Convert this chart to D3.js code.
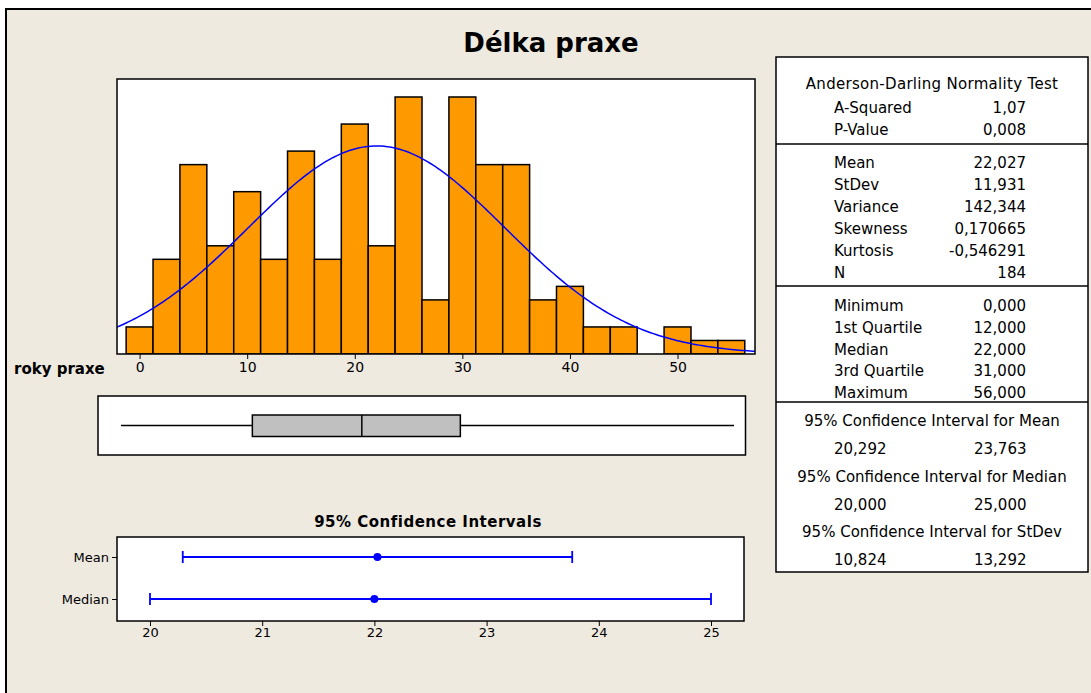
<!DOCTYPE html>
<html>
<head>
<meta charset="utf-8">
<script src="https://cdn.jsdelivr.net/npm/d3@7"></script>
<style>
  body { margin: 0; background: #fff; }
  text { font-family: "DejaVu Sans", Verdana, sans-serif; fill: #000; }
</style>
</head>
<body>
<script>
// histogram data (bin midpoints, counts)
const binMids = [0, 2.5, 5, 7.5, 10, 12.5, 15, 17.5, 20, 22.5, 25, 27.5, 30, 32.5, 35, 37.5, 40, 42.5, 45, 47.5, 50, 52.5, 55];
const counts  = [2, 7, 14, 8, 12, 7, 15, 7, 17, 8, 19, 4, 19, 14, 14, 4, 5, 2, 2, 0, 2, 1, 1];
const binWidth = 2.5;
const histTicks = [0, 10, 20, 30, 40, 50];

// summary stats
const adLabels = ["A-Squared", "P-Value"];
const adValues = ["1,07", "0,008"];
const momentLabels = ["Mean", "StDev", "Variance", "Skewness", "Kurtosis", "N"];
const momentValues = [22.027, 11.931, 142.344, 0.170665, -0.546291, 184];
const momentDecimals = [3, 3, 3, 6, 6, 0];
const quantLabels = ["Minimum", "1st Quartile", "Median", "3rd Quartile", "Maximum"];
const quantValues = [0, 12, 22, 31, 56];

// confidence intervals
const ciRows = ["Mean", "Median"];
const ciPoint = [22.027, 22.0];
const ciLow = [20.292, 20.0];
const ciHigh = [23.763, 25.0];
const ciTicks = [20, 21, 22, 23, 24, 25];
const ciTableTitles = ["95% Confidence Interval for Mean", "95% Confidence Interval for Median", "95% Confidence Interval for StDev"];
const ciTableLow = [20.292, 20.0, 10.824];
const ciTableHigh = [23.763, 25.0, 13.292];

const fmt = (v, d) => v.toFixed(d).replace(".", ",");

const svg = d3.select("body")
  .append("svg")
    .attr("width", 1091)
    .attr("height", 693);

// background frame
svg.append("rect")
  .attr("x", 6).attr("y", 9)
  .attr("width", 1100).attr("height", 700)
  .attr("fill", "#EEEAE0")
  .attr("stroke", "#000")
  .attr("stroke-width", 2);

svg.append("text")
  .attr("x", 551).attr("y", 52)
  .attr("text-anchor", "middle")
  .attr("font-size", "26px")
  .attr("font-weight", "bold")
  .text("Délka praxe");

// ---------- histogram ----------
const hx = d3.scaleLinear().domain([-2.1, 57.2]).range([117, 755]);
const hy = d3.scaleLinear().domain([0, 20.33]).range([354, 79]);

svg.append("clipPath").attr("id", "histclip")
  .append("rect")
    .attr("x", 117).attr("y", 79)
    .attr("width", 755 - 117).attr("height", 354 - 79);

svg.append("rect")
  .attr("x", 117).attr("y", 79)
  .attr("width", 755 - 117).attr("height", 354 - 79)
  .attr("fill", "#fff");

const hist = svg.append("g").attr("clip-path", "url(#histclip)");

hist.selectAll("rect.bar")
  .data(binMids.map((m, i) => ({mid: m, n: counts[i]})).filter(d => d.n > 0))
  .join("rect")
    .attr("class", "bar")
    .attr("x", d => hx(d.mid - binWidth / 2))
    .attr("y", d => hy(d.n))
    .attr("width", d => hx(d.mid + binWidth / 2) - hx(d.mid - binWidth / 2))
    .attr("height", d => hy(0) - hy(d.n))
    .attr("fill", "#FF9900")
    .attr("stroke", "#000")
    .attr("stroke-width", 1.5);

// fitted normal curve from the Mean / StDev / N in the table
const mu = momentValues[0], sd = momentValues[1], nObs = momentValues[5];
const curveX = d3.range(-2.5, 57.6, 0.25);
const line = d3.line()
  .x(x => hx(x))
  .y(x => hy(nObs * binWidth * Math.exp(-0.5 * ((x - mu) / sd) ** 2) / (sd * Math.sqrt(2 * Math.PI))));

hist.append("path")
  .datum(curveX)
  .attr("d", line)
  .attr("fill", "none")
  .attr("stroke", "#0000FF")
  .attr("stroke-width", 1.5);

svg.append("rect")
  .attr("x", 117).attr("y", 79)
  .attr("width", 755 - 117).attr("height", 354 - 79)
  .attr("fill", "none")
  .attr("stroke", "#000")
  .attr("stroke-width", 1.5);

const hAxis = svg.append("g")
  .attr("transform", "translate(0,354)")
  .call(d3.axisBottom(hx).tickValues(histTicks).tickSize(5).tickSizeOuter(0));
hAxis.select(".domain").remove();
hAxis.attr("font-size", null).attr("font-family", null);
hAxis.selectAll("text")
  .style("font-size", "14px")
  .attr("dy", "0.95em")
  .attr("y", 5);

svg.append("text")
  .attr("x", 14).attr("y", 374)
  .attr("font-size", "15px")
  .attr("font-weight", "bold")
  .text("roky praxe");

// ---------- boxplot ----------
const bx = d3.scaleLinear().domain([-2.1, 57.05]).range([98, 745.5]);
const boxY = 425.5;

svg.append("rect")
  .attr("x", 98).attr("y", 396)
  .attr("width", 745.5 - 98).attr("height", 455 - 396)
  .attr("fill", "#fff")
  .attr("stroke", "#000")
  .attr("stroke-width", 1.5);

svg.append("line")
  .attr("x1", bx(quantValues[0])).attr("x2", bx(quantValues[1]))
  .attr("y1", boxY).attr("y2", boxY)
  .attr("stroke", "#000").attr("stroke-width", 1.5);
svg.append("line")
  .attr("x1", bx(quantValues[3])).attr("x2", bx(quantValues[4]))
  .attr("y1", boxY).attr("y2", boxY)
  .attr("stroke", "#000").attr("stroke-width", 1.5);

svg.append("rect")
  .attr("x", bx(quantValues[1])).attr("y", 415)
  .attr("width", bx(quantValues[3]) - bx(quantValues[1])).attr("height", 21.5)
  .attr("fill", "#C0C0C0")
  .attr("stroke", "#000").attr("stroke-width", 1.5);

svg.append("line")
  .attr("x1", bx(quantValues[2])).attr("x2", bx(quantValues[2]))
  .attr("y1", 415).attr("y2", 436.5)
  .attr("stroke", "#000").attr("stroke-width", 1.5);

// ---------- confidence intervals ----------
const cx = d3.scaleLinear().domain([19.706, 25.294]).range([117, 744]);
const cy = d3.scalePoint().domain(ciRows).range([536, 620]).padding(0.5);

svg.append("text")
  .attr("x", 428).attr("y", 527)
  .attr("text-anchor", "middle")
  .attr("font-size", "15px")
  .attr("font-weight", "bold")
  .attr("letter-spacing", "0.5px")
  .text("95% Confidence Intervals");

svg.append("rect")
  .attr("x", 117).attr("y", 537)
  .attr("width", 744 - 117).attr("height", 621 - 537)
  .attr("fill", "#fff")
  .attr("stroke", "#000")
  .attr("stroke-width", 1.5);

const ci = ciRows.map((r, i) => ({row: r, lo: ciLow[i], hi: ciHigh[i], pt: ciPoint[i]}));

svg.selectAll("line.ci")
  .data(ci)
  .join("line")
    .attr("class", "ci")
    .attr("x1", d => cx(d.lo)).attr("x2", d => cx(d.hi))
    .attr("y1", d => cy(d.row)).attr("y2", d => cy(d.row))
    .attr("stroke", "#0000FF").attr("stroke-width", 1.8);

svg.selectAll("line.capl")
  .data(ci)
  .join("line")
    .attr("class", "capl")
    .attr("x1", d => cx(d.lo)).attr("x2", d => cx(d.lo))
    .attr("y1", d => cy(d.row) - 6).attr("y2", d => cy(d.row) + 6)
    .attr("stroke", "#0000FF").attr("stroke-width", 1.8);

svg.selectAll("line.caph")
  .data(ci)
  .join("line")
    .attr("class", "caph")
    .attr("x1", d => cx(d.hi)).attr("x2", d => cx(d.hi))
    .attr("y1", d => cy(d.row) - 6).attr("y2", d => cy(d.row) + 6)
    .attr("stroke", "#0000FF").attr("stroke-width", 1.8);

svg.selectAll("circle.ci")
  .data(ci)
  .join("circle")
    .attr("class", "ci")
    .attr("cx", d => cx(d.pt))
    .attr("cy", d => cy(d.row))
    .attr("r", 4)
    .attr("fill", "#0000FF");

const cxAxis = svg.append("g")
  .attr("transform", "translate(0,621)")
  .call(d3.axisBottom(cx).tickValues(ciTicks).tickFormat(d3.format("d")).tickSize(5).tickSizeOuter(0));
cxAxis.select(".domain").remove();
cxAxis.attr("font-size", null).attr("font-family", null);
cxAxis.selectAll("text")
  .style("font-size", "13px")
  .attr("y", 7);

const cyAxis = svg.append("g")
  .attr("transform", "translate(117,0)")
  .call(d3.axisLeft(cy).tickSize(5).tickSizeOuter(0));
cyAxis.select(".domain").remove();
cyAxis.attr("font-size", null).attr("font-family", null);
cyAxis.selectAll("text")
  .style("font-size", "13px")
  .attr("x", -8);

// ---------- summary table ----------
const tLeft = 776, tRight = 1088, labelX = 834, valueX = 1026, midX = 932;

svg.append("rect")
  .attr("x", tLeft).attr("y", 57)
  .attr("width", tRight - tLeft).attr("height", 572 - 57)
  .attr("fill", "#fff")
  .attr("stroke", "#000")
  .attr("stroke-width", 1.5);

[144, 286, 402].forEach(y => {
  svg.append("line")
    .attr("x1", tLeft).attr("x2", tRight)
    .attr("y1", y).attr("y2", y)
    .attr("stroke", "#000").attr("stroke-width", 1.5);
});

const tbl = svg.append("g");

tbl.append("text")
  .attr("x", midX).attr("y", 89)
  .attr("text-anchor", "middle")
  .attr("font-size", "15px")
  .attr("letter-spacing", "0.3px")
  .text("Anderson-Darling Normality Test");

function statRows(labels, values, y0, step) {
  labels.forEach((l, i) => {
    tbl.append("text").attr("x", labelX).attr("y", y0 + i * step).attr("font-size", "15px").text(l);
    tbl.append("text").attr("x", valueX).attr("y", y0 + i * step).attr("font-size", "15px")
      .attr("text-anchor", "end").text(values[i]);
  });
}

statRows(adLabels, adValues, 113, 22);
statRows(momentLabels, momentValues.map((v, i) => fmt(v, momentDecimals[i])), 168, 22);
statRows(quantLabels, quantValues.map(v => fmt(v, 3)), 311, 21.8);

ciTableTitles.forEach((t, i) => {
  const y = 426 + i * 55.5;
  tbl.append("text").attr("x", midX).attr("y", y).attr("font-size", "15px")
    .attr("text-anchor", "middle").text(t);
  tbl.append("text").attr("x", labelX).attr("y", y + 28).attr("font-size", "15px")
    .text(fmt(ciTableLow[i], 3));
  tbl.append("text").attr("x", 974).attr("y", y + 28).attr("font-size", "15px")
    .text(fmt(ciTableHigh[i], 3));
});
</script>
</body>
</html>
